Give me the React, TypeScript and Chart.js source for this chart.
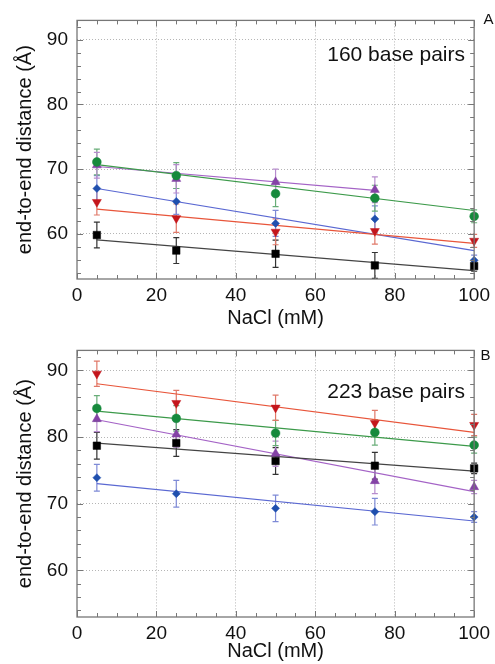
import React, { useEffect, useRef } from 'react';
import { Chart, registerables } from 'chart.js';
Chart.register(...registerables);

const FONT = "'Liberation Sans', Arial, Helvetica, sans-serif";

// NaCl concentrations (mM)
const NACL = [5, 25, 50, 75, 100];
const NACL_A_PURPLE = [5, 25, 50, 75];
const FIT_X = [5, 100];
const FIT_X_A_PURPLE = [5, 75];

// Panel A: 160 base pairs (end-to-end distance, Å)
const A_BLACK = [59.8, 57.4, 56.9, 55.1, 55.0];
const A_RED = [64.9, 62.4, 60.3, 60.4, 58.9];
const A_BLUE = [67.0, 65.0, 61.6, 62.3, 55.9];
const A_GREEN = [71.1, 69.0, 66.2, 65.5, 62.7];
const A_PURPLE = [70.6, 68.5, 68.0, 66.8];
const A_BLACK_ERR = [2.0, 2.0, 2.1, 2.0, 0.8];
const A_RED_ERR = [2.0, 2.2, 2.0, 2.0, 1.0];
const A_BLUE_ERR = [2.0, 2.0, 2.0, 2.0, 0.8];
const A_GREEN_ERR = [2.0, 2.0, 2.0, 2.0, 1.0];
const A_PURPLE_ERR = [2.0, 2.2, 2.0, 2.0];
const A_BLACK_FIT = [59.05, 54.3];
const A_RED_FIT = [63.8, 58.5];
const A_BLUE_FIT = [67.0, 57.4];
const A_GREEN_FIT = [70.7, 63.6];
const A_PURPLE_FIT = [70.4, 66.7];

// Panel B: 223 base pairs
const B_RED = [89.5, 85.1, 84.4, 82.1, 81.8];
const B_GREEN = [84.3, 82.8, 80.6, 80.7, 78.8];
const B_PURPLE = [82.7, 80.4, 77.5, 73.4, 72.5];
const B_BLACK = [78.7, 79.1, 76.4, 75.7, 75.3];
const B_BLUE = [73.9, 71.5, 69.3, 68.8, 68.0];
const B_RED_ERR = [1.9, 1.9, 1.9, 1.9, 1.6];
const B_GREEN_ERR = [1.9, 1.9, 1.9, 1.9, 1.2];
const B_PURPLE_ERR = [1.9, 1.9, 1.9, 1.9, 1.0];
const B_BLACK_ERR = [2.0, 2.0, 2.0, 2.0, 0.8];
const B_BLUE_ERR = [2.0, 2.0, 2.0, 2.0, 0.8];
const B_RED_FIT = [88.0, 80.7];
const B_GREEN_FIT = [83.9, 78.6];
const B_PURPLE_FIT = [82.6, 71.8];
const B_BLACK_FIT = [79.1, 74.9];
const B_BLUE_FIT = [73.0, 67.4];

const Y_MIN = 53;
const Y_MAX = 93;
const X_TICK_LABELS = [0, 20, 40, 60, 80, 100];
const Y_TICK_LABELS = [60, 70, 80, 90];

type Style = { marker: string; line: string; err: string; shape: string; rot: number; r: number };
const BLACK: Style = { marker: '#000000', line: '#444444', err: '#333333', shape: 'rect', rot: 0, r: 5.3 };
const RED: Style = { marker: '#c4161c', line: '#e8553a', err: '#e07868', shape: 'triangle', rot: 180, r: 5.2 };
const BLUE: Style = { marker: '#1f4fae', line: '#5a68d2', err: '#7e8ad6', shape: 'rectRot', rot: 0, r: 4 };
const GREEN: Style = { marker: '#168a3c', line: '#3c9a4a', err: '#68ad78', shape: 'circle', rot: 0, r: 4.4 };
const PURPLE: Style = { marker: '#8442a6', line: '#a463c6', err: '#b78ccd', shape: 'triangle', rot: 0, r: 5.2 };

type Series = { xs: number[]; ys: number[]; err: number[]; fitX: number[]; fit: number[]; style: Style };

const SERIES_A: Series[] = [
  { xs: NACL, ys: A_BLACK, err: A_BLACK_ERR, fitX: FIT_X, fit: A_BLACK_FIT, style: BLACK },
  { xs: NACL, ys: A_RED, err: A_RED_ERR, fitX: FIT_X, fit: A_RED_FIT, style: RED },
  { xs: NACL, ys: A_BLUE, err: A_BLUE_ERR, fitX: FIT_X, fit: A_BLUE_FIT, style: BLUE },
  { xs: NACL, ys: A_GREEN, err: A_GREEN_ERR, fitX: FIT_X, fit: A_GREEN_FIT, style: GREEN },
  { xs: NACL_A_PURPLE, ys: A_PURPLE, err: A_PURPLE_ERR, fitX: FIT_X_A_PURPLE, fit: A_PURPLE_FIT, style: PURPLE },
];
const SERIES_B: Series[] = [
  { xs: NACL, ys: B_BLACK, err: B_BLACK_ERR, fitX: FIT_X, fit: B_BLACK_FIT, style: BLACK },
  { xs: NACL, ys: B_BLUE, err: B_BLUE_ERR, fitX: FIT_X, fit: B_BLUE_FIT, style: BLUE },
  { xs: NACL, ys: B_PURPLE, err: B_PURPLE_ERR, fitX: FIT_X, fit: B_PURPLE_FIT, style: PURPLE },
  { xs: NACL, ys: B_GREEN, err: B_GREEN_ERR, fitX: FIT_X, fit: B_GREEN_FIT, style: GREEN },
  { xs: NACL, ys: B_RED, err: B_RED_ERR, fitX: FIT_X, fit: B_RED_FIT, style: RED },
];

const isMult = (v: number, m: number) => Math.abs(v / m - Math.round(v / m)) < 1e-6;

const framePlugin = {
  id: 'frame',
  beforeDatasetsDraw(chart: any) {
    const ctx = chart.ctx;
    const ys = chart.scales.y;
    const xs = chart.scales.x;
    ctx.save();
    chart.data.datasets.forEach((ds: any) => {
      if (!ds.errors) return;
      ctx.strokeStyle = ds.errColor;
      ctx.lineWidth = 1.2;
      ds.data.forEach((p: any, i: number) => {
        const e = ds.errors[i];
        const px = xs.getPixelForValue(p.x);
        const top = ys.getPixelForValue(p.y + e);
        const bot = ys.getPixelForValue(p.y - e);
        ctx.beginPath();
        ctx.moveTo(px, top);
        ctx.lineTo(px, bot);
        ctx.moveTo(px - 3, top);
        ctx.lineTo(px + 3, top);
        ctx.moveTo(px - 3, bot);
        ctx.lineTo(px + 3, bot);
        ctx.stroke();
      });
    });
    ctx.restore();
  },
  afterDatasetsDraw(chart: any, _a: any, opts: any) {
    const ctx = chart.ctx;
    const { left, right, top, bottom } = chart.chartArea;
    const xs = chart.scales.x;
    const ys = chart.scales.y;
    ctx.save();
    ctx.strokeStyle = '#777777';
    ctx.lineWidth = 1.3;
    ctx.strokeRect(left, top, right - left, bottom - top);
    ctx.lineWidth = 1;
    ctx.beginPath();
    xs.ticks.forEach((t: any) => {
      const px = Math.round(xs.getPixelForValue(t.value)) + 0.5;
      const len = isMult(t.value, 20) ? 6 : 4;
      ctx.moveTo(px, bottom);
      ctx.lineTo(px, bottom - len);
      ctx.moveTo(px, top);
      ctx.lineTo(px, top + len);
    });
    ys.ticks.forEach((t: any) => {
      const py = Math.round(ys.getPixelForValue(t.value)) + 0.5;
      const len = isMult(t.value, 10) ? 6 : 4;
      ctx.moveTo(left, py);
      ctx.lineTo(left + len, py);
      ctx.moveTo(right, py);
      ctx.lineTo(right - len, py);
    });
    ctx.stroke();
    ctx.fillStyle = '#111111';
    ctx.font = `21px ${FONT}`;
    ctx.textAlign = 'right';
    ctx.textBaseline = 'alphabetic';
    ctx.fillText(opts.label, opts.labelX, opts.labelY);
    ctx.font = `15px ${FONT}`;
    ctx.textAlign = 'center';
    ctx.textBaseline = 'middle';
    ctx.fillText(opts.letter, opts.letterX, opts.letterY);
    ctx.restore();
  },
};

type PanelProps = {
  series: Series[];
  height: number;
  padTop: number;
  xAxisH: number;
  xTitlePad: number;
  label: string;
  labelY: number;
  letter: string;
  letterX: number;
  letterY: number;
};

function Panel(p: PanelProps) {
  const ref = useRef<HTMLCanvasElement>(null);
  useEffect(() => {
    if (!ref.current) return;
    const datasets: any[] = [];
    p.series.forEach((s) => {
      datasets.push({
        type: 'line',
        data: s.fitX.map((x, i) => ({ x, y: s.fit[i] })),
        borderColor: s.style.line,
        borderWidth: 1.2,
        pointRadius: 0,
        fill: false,
        order: 2,
      });
    });
    p.series.forEach((s) => {
      datasets.push({
        type: 'scatter',
        data: s.xs.map((x, i) => ({ x, y: s.ys[i] })),
        errors: s.err,
        errColor: s.style.err,
        pointStyle: s.style.shape,
        rotation: s.style.rot,
        pointRadius: s.style.r,
        backgroundColor: s.style.marker,
        borderColor: s.style.marker,
        borderWidth: 0.5,
        clip: false,
        order: 1,
      });
    });
    const chart = new Chart(ref.current, {
      type: 'scatter',
      data: { datasets },
      plugins: [framePlugin],
      options: {
        responsive: false,
        animation: false,
        devicePixelRatio: 1,
        layout: { padding: { top: p.padTop, right: 18, left: 0, bottom: 0 } },
        plugins: {
          legend: { display: false },
          tooltip: { enabled: false },
          frame: { label: p.label, labelX: 465, labelY: p.labelY, letter: p.letter, letterX: p.letterX, letterY: p.letterY },
        } as any,
        scales: {
          x: {
            type: 'linear',
            min: 0,
            max: 100,
            afterFit: (sc: any) => { sc.height = p.xAxisH; },
            afterBuildTicks: (sc: any) => {
              const arr: any[] = [];
              for (let v = 0; v <= 100; v += 5) arr.push({ value: v });
              sc.ticks = arr;
            },
            ticks: {
              autoSkip: false,
              maxRotation: 0,
              padding: 5,
              color: '#111',
              font: { family: FONT, size: 19 },
              callback: (v: any) => (X_TICK_LABELS.includes(Number(v)) ? String(v) : ''),
            },
            grid: {
              drawTicks: false,
              color: (c: any) => (c.tick && isMult(c.tick.value, 20) && c.tick.value > 0 && c.tick.value < 100 ? '#b5b5b5' : 'rgba(0,0,0,0)'),
              lineWidth: 1,
            },
            border: { display: false, dash: [1, 2] },
            title: { display: true, text: 'NaCl (mM)', color: '#111', font: { family: FONT, size: 20 }, padding: { top: 0, bottom: p.xTitlePad } },
          },
          y: {
            type: 'linear',
            min: Y_MIN,
            max: Y_MAX,
            afterFit: (sc: any) => { sc.width = 77; },
            afterBuildTicks: (sc: any) => {
              const arr: any[] = [];
              for (let v = 54; v <= 92; v += 2) arr.push({ value: v });
              sc.ticks = arr;
            },
            ticks: {
              autoSkip: false,
              padding: 9,
              color: '#111',
              font: { family: FONT, size: 19 },
              callback: (v: any) => (Y_TICK_LABELS.includes(Number(v)) ? String(v) : ''),
            },
            grid: {
              drawTicks: false,
              color: (c: any) => (c.tick && isMult(c.tick.value, 10) ? '#b5b5b5' : 'rgba(0,0,0,0)'),
              lineWidth: 1,
            },
            border: { display: false, dash: [1, 2] },
            title: { display: true, text: 'end-to-end distance (Å)', color: '#111', font: { family: FONT, size: 20 }, padding: { top: 13, bottom: 0 } },
          },
        },
      } as any,
    });
    return () => chart.destroy();
  }, []);
  return (
    <div style={{ width: 495, height: p.height }}>
      <canvas ref={ref} width={495} height={p.height} style={{ display: 'block' }} />
    </div>
  );
}

export default function App() {
  return (
    <div style={{ position: 'absolute', left: 0, top: 0, width: 495, height: 664, background: '#fff' }}>
      <Panel series={SERIES_A} height={330} padTop={12} xAxisH={51} xTitlePad={0} label="160 base pairs" labelY={60.7} letter="A" letterX={488.5} letterY={19.5} />
      <Panel series={SERIES_B} height={334} padTop={19} xAxisH={47} xTitlePad={1} label="223 base pairs" labelY={68.3} letter="B" letterX={485.5} letterY={26} />
    </div>
  );
}
